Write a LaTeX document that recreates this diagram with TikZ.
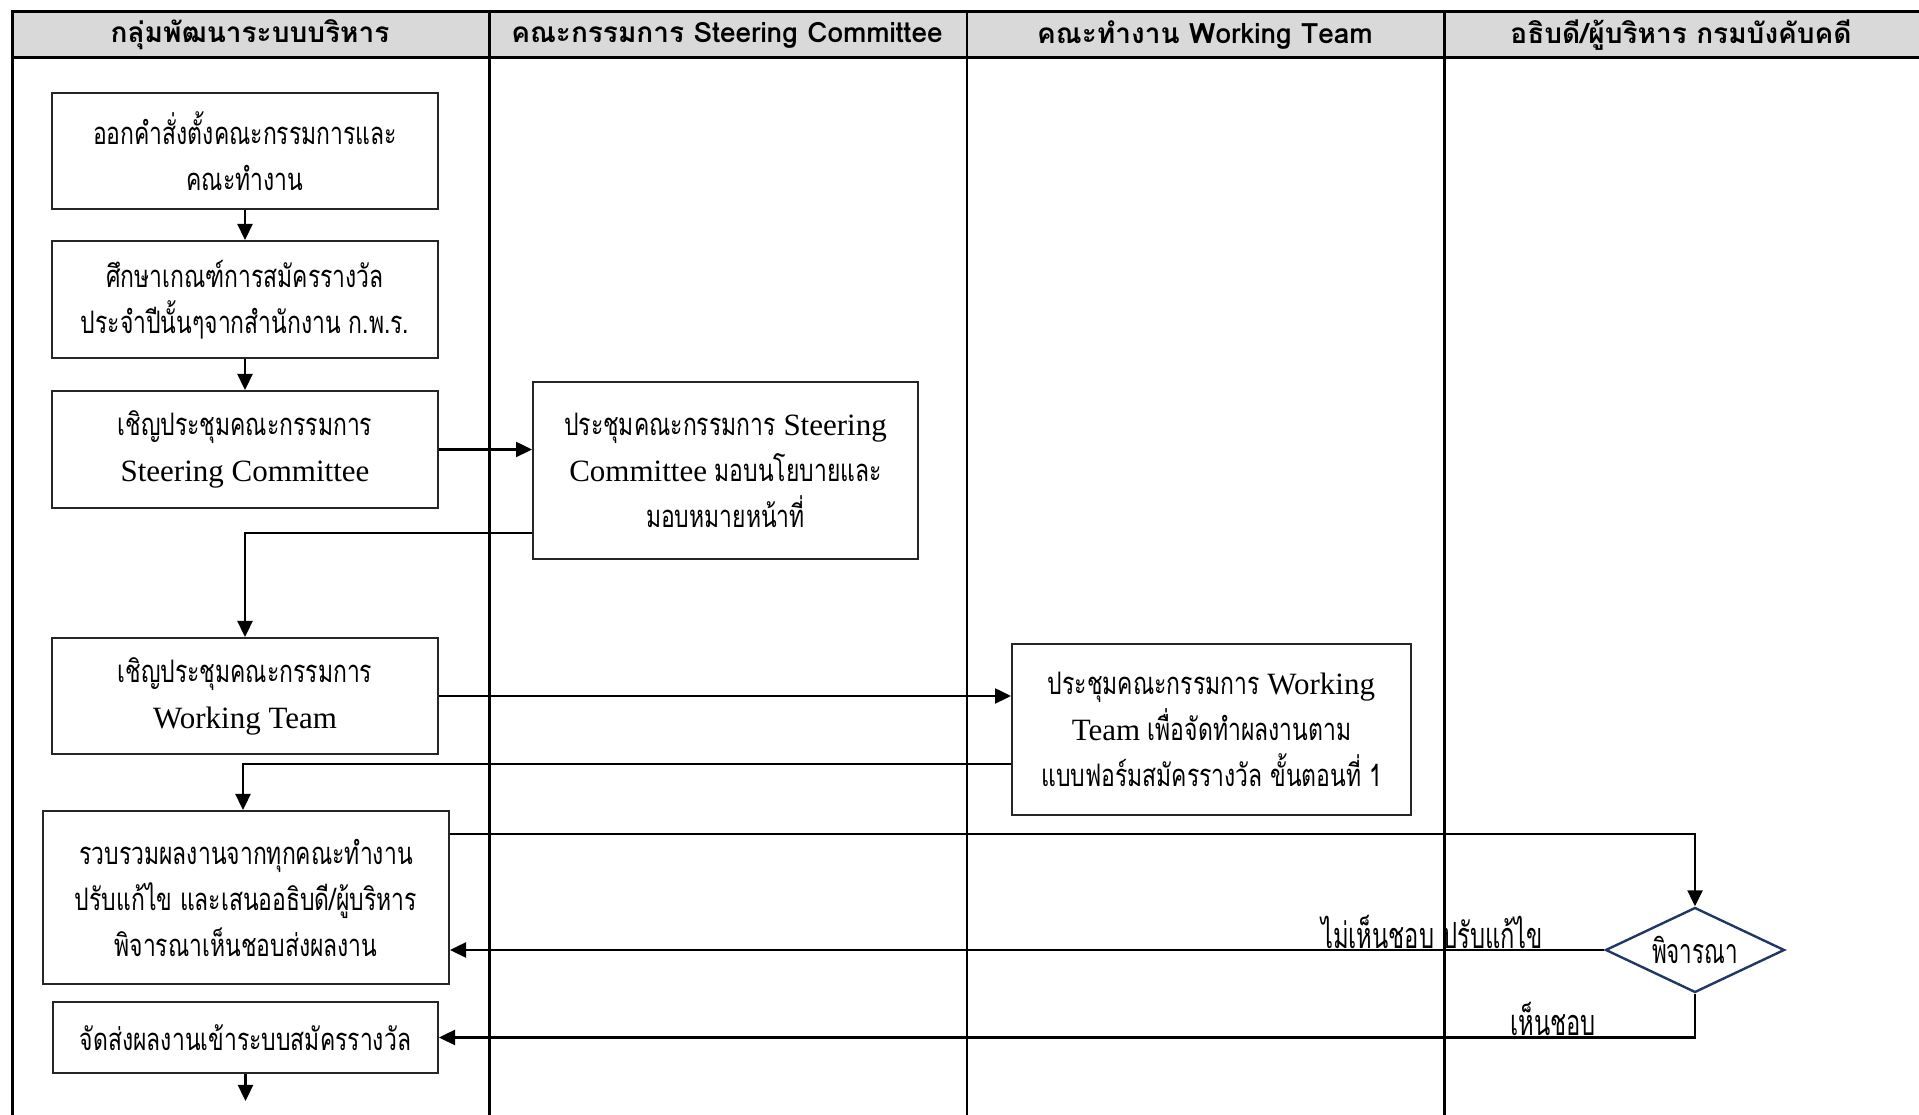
\documentclass[tikz,border=0pt]{standalone}
\usepackage{fontspec}
\setmainfont{Liberation Serif}
\newfontfamily\thaifont[Script=Thai,FakeStretch=0.74]{Loma}
\newfontfamily\lblfont[Script=Thai,FakeStretch=0.66]{Loma}
\newfontfamily\headfont[Script=Thai]{Loma}
\newcommand\lat[1]{{\rmfamily\fontsize{31}{46}\selectfont #1}}
\usetikzlibrary{positioning,shapes.geometric,arrows.meta}
\definecolor{headgray}{HTML}{D9D9D9}
\definecolor{dianavy}{HTML}{1F3864}
\begin{document}
\begin{tikzpicture}[x=1pt, y=1pt,
    box/.style={draw=black!85, line width=2pt, fill=white, align=center, inner sep=0pt,
      minimum width=386pt, font=\thaifont\fontsize{31}{46}\selectfont},
    head/.style={font=\headfont\bfseries\fontsize{28}{30}\selectfont},
    lbl/.style={font=\lblfont\fontsize{36}{36}\selectfont, inner sep=1pt},
    flow/.style={line width=2.4pt, -{Triangle[length=16pt,width=15pt]}},
    lane/.style={line width=2.2pt}]
  \useasboundingbox (0,0) rectangle (1919,1115);

  \fill[headgray] (12,1057.5) rectangle (1922,1103);
  \draw[line width=3pt] (12,0) -- (12,1103) -- (1922,1103);
  \draw[line width=3pt] (12,1057.5) -- (1922,1057.5);
  \draw[lane] (489.5,0) -- (489.5,1103);
  \draw[lane] (967,0) -- (967,1103);
  \draw[lane] (1444.5,0) -- (1444.5,1103);

  \node[head] (hmgmt) at (250,1080) {กลุ่มพัฒนาระบบบริหาร};
  \node[head] (hsteer) at (727,1080) {คณะกรรมการ Steering Committee};
  \node[head] (hwork) at (1205,1080) {คณะทำงาน Working Team};
  \node[head] (hboss) at (1681,1080) {อธิบดี/ผู้บริหาร กรมบังคับคดี};

  \node[box, minimum height=116pt] (order) at (245,964) {ออกคำสั่งตั้งคณะกรรมการและ\\คณะทำงาน};
  \node[box, minimum height=117pt, below=30pt of order] (study) {ศึกษาเกณฑ์การสมัครรางวัล\\ประจำปีนั้นๆจากสำนักงาน ก.พ.ร.};
  \node[box, minimum height=117pt, below=31pt of study] (invsc) {เชิญประชุมคณะกรรมการ\\\lat{Steering Committee}};
  \node[box, minimum width=385pt, minimum height=177pt] (meetsc) at (725.5,644.5) {ประชุมคณะกรรมการ \lat{Steering}\\\lat{Committee} มอบนโยบายและ\\มอบหมายหน้าที่};
  \node[box, minimum height=116pt, below=128pt of invsc] (invwt) {เชิญประชุมคณะกรรมการ\\\lat{Working Team}};
  \node[box, minimum width=399pt, minimum height=171pt] (meetwt) at (1211.5,385.5) {ประชุมคณะกรรมการ \lat{Working}\\\lat{Team} เพื่อจัดทำผลงานตาม\\แบบฟอร์มสมัครรางวัล ขั้นตอนที่ 1};
  \node[box, minimum width=406pt, minimum height=173pt] (collect) at (246,217.5) {รวบรวมผลงานจากทุกคณะทำงาน\\ปรับแก้ไข และเสนออธิบดี/ผู้บริหาร\\พิจารณาเห็นชอบส่งผลงาน};
  \node[box, minimum width=385pt, minimum height=71pt] (submit) at (245.5,77.5) {จัดส่งผลงานเข้าระบบสมัครรางวัล};
  \node[diamond, draw=dianavy, line width=2.4pt, fill=white, aspect=2.1, minimum width=179pt, minimum height=85pt,
    inner sep=0pt, font=\lblfont\fontsize{34}{36}\selectfont] (judge) at (1695,165) {พิจารณา};
  \coordinate (outend) at (245.5,14);

  \draw[flow] (order) -- (study);
  \draw[flow] (study) -- (invsc);
  \draw[flow] (invsc.east) -- (invsc.east -| meetsc.west);
  \draw[flow] ([yshift=27pt]meetsc.south west) -| (invwt.north);
  \draw[flow] (invwt.east) -- (invwt.east -| meetwt.west);
  \draw[flow] ([yshift=52pt]meetwt.south west) -| ([xshift=-3pt]collect.north);
  \draw[flow] ([yshift=-24pt]collect.north east) -| (judge.north);
  \draw[flow] (judge.west) -- (judge.west -| collect.east);
  \draw[flow] (judge.south) |- (submit.east);
  \draw[flow] (submit) -- (outend);

  \node[lbl, anchor=south east] (nolbl) at ([xshift=-60pt]judge.west) {ไม่เห็นชอบ ปรับแก้ไข};
  \node[lbl, anchor=south] (yeslbl) at (1553,78) {เห็นชอบ};
\end{tikzpicture}
\end{document}
